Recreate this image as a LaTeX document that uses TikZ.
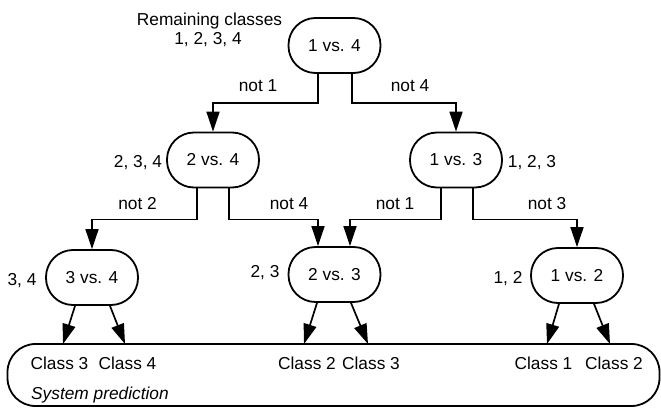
\documentclass[tikz,border=0pt]{standalone}
\usepackage{fontspec}
\setmainfont{Liberation Sans}
\usetikzlibrary{arrows.meta}
\begin{document}
\begin{tikzpicture}[x=1pt,y=-1pt,
  font=\fontsize{17.3}{20}\selectfont,
  clf/.style={draw, line width=1.8pt, rounded corners=27pt, minimum width=92pt, minimum height=55pt, inner sep=0pt},
  lbl/.style={inner sep=0pt, text height=12pt, text depth=0pt},
  arr/.style={line width=1.7pt, -{Triangle[length=20pt,width=13pt]}}]
\useasboundingbox (0,0) rectangle (661,409);
% classifier nodes
\node[clf] (n14) at (334.5,45.5) {1 vs. 4};
\node[clf] (n24) at (213,160) {2 vs. 4};
\node[clf] (n13) at (456,160) {1 vs. 3};
\node[clf] (n34) at (92,277.5) {3 vs. 4};
\node[clf] (n23) at (334.5,274.5) {2 vs. 3};
\node[clf] (n12) at (577,275.5) {1 vs. 2};
% prediction box
\node[draw, line width=1.8pt, rounded corners=28pt, minimum width=652pt, minimum height=62pt, inner sep=0pt] (pred) at (333.5,375) {};
% texts
\node[lbl] (rem) at (209.5,20) {Remaining classes};
\node[lbl] (r1234) at (208,39) {1, 2, 3, 4};
\node[lbl] (r234) at (138,161) {2, 3, 4};
\node[lbl] (r123) at (532,161) {1, 2, 3};
\node[lbl] (r34) at (22,279) {3, 4};
\node[lbl] (r23) at (265,271) {2, 3};
\node[lbl] (r12) at (508,277) {1, 2};
\node[lbl] (e1) at (258,86) {not 1};
\node[lbl] (e2) at (410,86) {not 4};
\node[lbl] (e3) at (137.5,203) {not 2};
\node[lbl] (e4) at (289,203) {not 4};
\node[lbl] (e5) at (395,203) {not 1};
\node[lbl] (e6) at (547,203) {not 3};
\node[lbl] (c1) at (59.5,363) {Class 3};
\node[lbl] (c2) at (127.5,363) {Class 4};
\node[lbl] (c3) at (307,363) {Class 2};
\node[lbl] (c4) at (371,363) {Class 3};
\node[lbl] (c5) at (543.5,363) {Class 1};
\node[lbl] (c6) at (614,363) {Class 2};
\node[lbl, anchor=west] (sp) at (31,393) {\itshape System prediction};
% arrow targets on prediction box
\coordinate (t1) at (63,344);
\coordinate (t2) at (125,344);
\coordinate (t3) at (304,344);
\coordinate (t4) at (368,344);
\coordinate (t5) at (547,344);
\coordinate (t6) at (610,344);
% tree connectors
\draw[arr] ([xshift=-16.5pt]n14.south) -- ++(0,29) -| (n24.north);
\draw[arr] ([xshift=17.5pt]n14.south) -- ++(0,29) -| (n13.north);
\draw[arr] ([xshift=-16pt]n24.south) -- ++(0,31) -| (n34.north);
\draw[arr] ([xshift=16pt]n24.south) -- ++(0,31) -| ([xshift=-16.5pt]n23.north);
\draw[arr] ([xshift=-15pt]n13.south) -- ++(0,31) -| ([xshift=15.5pt]n23.north);
\draw[arr] ([xshift=17pt]n13.south) -- ++(0,31) -| (n12.north);
% leaf arrows
\draw[arr] ([xshift=-17pt]n34.south) -- (t1);
\draw[arr] ([xshift=18pt]n34.south) -- (t2);
\draw[arr] ([xshift=-17.5pt]n23.south) -- (t3);
\draw[arr] ([xshift=16.5pt]n23.south) -- (t4);
\draw[arr] ([xshift=-18pt]n12.south) -- (t5);
\draw[arr] ([xshift=17pt]n12.south) -- (t6);
\end{tikzpicture}
\end{document}
